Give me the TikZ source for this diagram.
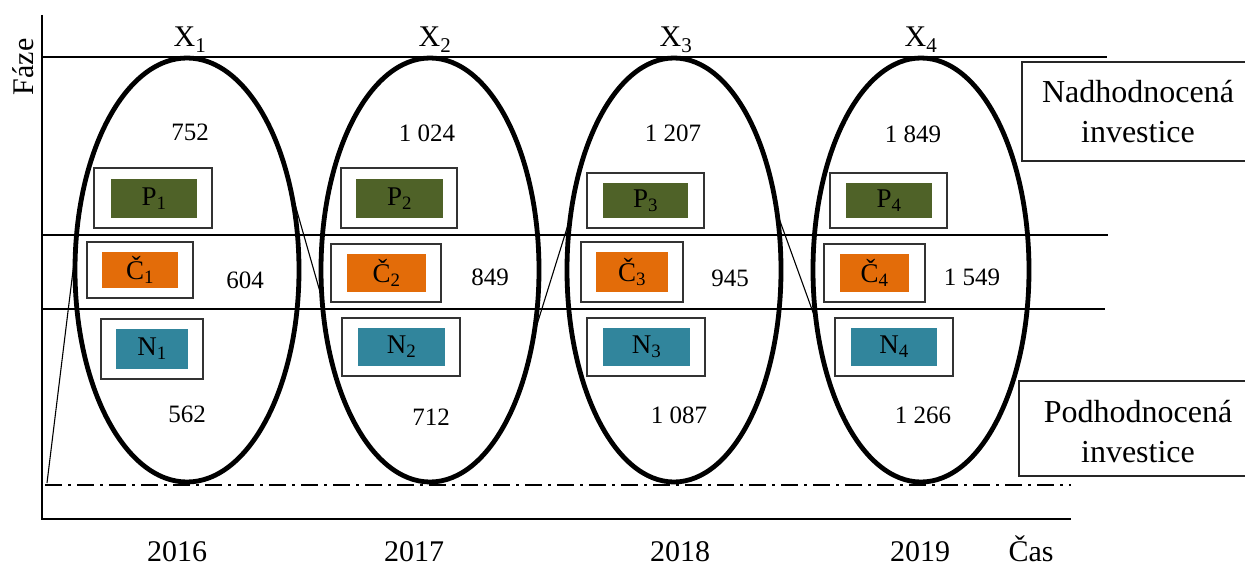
\documentclass[tikz,border=0pt]{standalone}
\usepackage{fontspec}
\setmainfont{Liberation Serif}
\usetikzlibrary{shapes.geometric}
\definecolor{pgreen}{RGB}{79,98,40}
\definecolor{corange}{RGB}{227,108,9}
\definecolor{nteal}{RGB}{49,133,156}
\begin{document}
\begin{tikzpicture}[x=1pt,y=-1pt,
  ell/.style={draw, ellipse, line width=4.8pt, inner sep=0pt, outer sep=0pt, minimum height=424pt},
  obox/.style={draw=black!80, line width=1.1pt, rectangle, inner sep=0pt, outer sep=0pt},
  ibox/.style={rectangle, inner sep=0pt, outer sep=0pt, font=\fontsize{27}{30}\selectfont},
  num/.style={font=\fontsize{25}{30}\selectfont, inner sep=0pt},
  big/.style={font=\fontsize{30}{36}\selectfont, inner sep=0pt},
  side/.style={font=\fontsize{32}{40}\selectfont, align=center, inner sep=0pt},
  sbox/.style={draw=black!85, line width=1.1pt, rectangle, inner sep=0pt},
  gridline/.style={line width=1.4pt},
  axis/.style={line width=2.4pt},
  zig/.style={line width=1.1pt}]
\useasboundingbox (0,0) rectangle (1245,567);
\clip (0,0) rectangle (1245,567);

% axes
\coordinate (ytop) at (42,15);
\coordinate (orig) at (42,519);
\coordinate (xend) at (1071,519);
\draw[axis] (ytop) -- (orig) -- (xend);

% horizontal lines
\coordinate (t0) at (42,57);   \coordinate (t1) at (1107,57);
\coordinate (m0) at (42,235);  \coordinate (m1) at (1108,235);
\coordinate (n0) at (42,309);  \coordinate (n1) at (1105,309);
\coordinate (d0) at (45,485);  \coordinate (d1) at (1071,485);
\draw[gridline] (t0) -- (t1);
\draw[gridline] (m0) -- (m1);
\draw[gridline] (n0) -- (n1);
\draw[line width=1.3pt, dash pattern=on 17pt off 6pt on 3pt off 6pt] (d0) -- (d1);

% ellipses
\node[ell, minimum width=224pt] (e1) at (187,270) {};
\node[ell, minimum width=218pt] (e2) at (430,270) {};
\node[ell, minimum width=214pt] (e3) at (674,270) {};
\node[ell, minimum width=216pt] (e4) at (921,270) {};

% zigzag
\coordinate (s0) at (47,483);
\draw[zig] (s0) -- (e1.170);
\draw[zig] (e1.39) -- (e2.195.5);
\draw[zig] (e2.-32.5) -- (e3.153.6);
\draw[zig] (e3.29.5) -- (e4.206);

% labels X
\node[big, anchor=base] (x1) at (190,47) {X\textsubscript{1}};
\node[big, anchor=base] (x2) at (435,47) {X\textsubscript{2}};
\node[big, anchor=base] (x3) at (676,47) {X\textsubscript{3}};
\node[big, anchor=base] (x4) at (921,47) {X\textsubscript{4}};

% axis labels
\node[big, rotate=90, anchor=base] (faze) at (33,67) {Fáze};
\node[big] (y16) at (177,552) {2016};
\node[big] (y17) at (414,552) {2017};
\node[big] (y18) at (680,552) {2018};
\node[big] (y19) at (920,552) {2019};
\node[big, anchor=base] (cas) at (1031,561) {Čas};

% boxes column 1
\node[obox, minimum width=118pt, minimum height=60pt] (p1o) at (153,198) {};
\node[ibox, fill=pgreen, minimum width=86pt, minimum height=39pt] (p1) at (154,198.5) {P\textsubscript{1}};
\node[obox, minimum width=106pt, minimum height=56pt] (c1o) at (140,270) {};
\node[ibox, fill=corange, minimum width=76pt, minimum height=36pt] (c1) at (140,270) {Č\textsubscript{1}};
\node[obox, minimum width=102pt, minimum height=60pt] (n1o) at (152,349) {};
\node[ibox, fill=nteal, minimum width=72pt, minimum height=40pt] (nn1) at (152,349) {N\textsubscript{1}};

% column 2
\node[obox, minimum width=116pt, minimum height=60pt] (p2o) at (399,198) {};
\node[ibox, fill=pgreen, minimum width=87pt, minimum height=39pt] (p2) at (399.5,198.5) {P\textsubscript{2}};
\node[obox, minimum width=110pt, minimum height=58pt] (c2o) at (386,273) {};
\node[ibox, fill=corange, minimum width=79pt, minimum height=38pt] (c2) at (386.5,273) {Č\textsubscript{2}};
\node[obox, minimum width=118pt, minimum height=58pt] (n2o) at (401,347) {};
\node[ibox, fill=nteal, minimum width=87pt, minimum height=38pt] (nn2) at (401.5,347) {N\textsubscript{2}};

% column 3
\node[obox, minimum width=117pt, minimum height=55pt] (p3o) at (645.5,200.5) {};
\node[ibox, fill=pgreen, minimum width=85pt, minimum height=35pt] (p3) at (645.5,200.5) {P\textsubscript{3}};
\node[obox, minimum width=102pt, minimum height=60pt] (c3o) at (632,272) {};
\node[ibox, fill=corange, minimum width=72pt, minimum height=40pt] (c3) at (632,272) {Č\textsubscript{3}};
\node[obox, minimum width=118pt, minimum height=58pt] (n3o) at (646,347) {};
\node[ibox, fill=nteal, minimum width=87pt, minimum height=38pt] (nn3) at (646.5,347) {N\textsubscript{3}};

% column 4
\node[obox, minimum width=117pt, minimum height=55pt] (p4o) at (888.5,200.5) {};
\node[ibox, fill=pgreen, minimum width=86pt, minimum height=35pt] (p4) at (889,200.5) {P\textsubscript{4}};
\node[obox, minimum width=101pt, minimum height=58pt] (c4o) at (874.5,273) {};
\node[ibox, fill=corange, minimum width=69pt, minimum height=38pt] (c4) at (874.5,273) {Č\textsubscript{4}};
\node[obox, minimum width=118pt, minimum height=58pt] (n4o) at (894,347) {};
\node[ibox, fill=nteal, minimum width=86pt, minimum height=38pt] (nn4) at (894,347) {N\textsubscript{4}};

% numbers
\node[num] (a1) at (190,132) {752};
\node[num] (a2) at (427,133) {1 024};
\node[num] (a3) at (673,133) {1 207};
\node[num] (a4) at (913,134) {1 849};
\node[num] (b1) at (245,280) {604};
\node[num] (b2) at (490,277) {849};
\node[num] (b3) at (730,278) {945};
\node[num] (b4) at (972,277) {1 549};
\node[num] (c1n) at (187,414) {562};
\node[num] (c2n) at (431,417) {712};
\node[num] (c3n) at (679,415) {1 087};
\node[num] (c4n) at (923,415) {1 266};

% side boxes
\node[sbox, minimum width=238pt, minimum height=99pt] (nadbox) at (1141,111.5) {};
\node[side] (nad) at (1138,112) {Nadhodnocená\\investice};
\node[sbox, minimum width=241pt, minimum height=95pt] (podbox) at (1139.5,428.5) {};
\node[side] (pod) at (1138,431.5) {Podhodnocená\\investice};
\end{tikzpicture}
\end{document}
